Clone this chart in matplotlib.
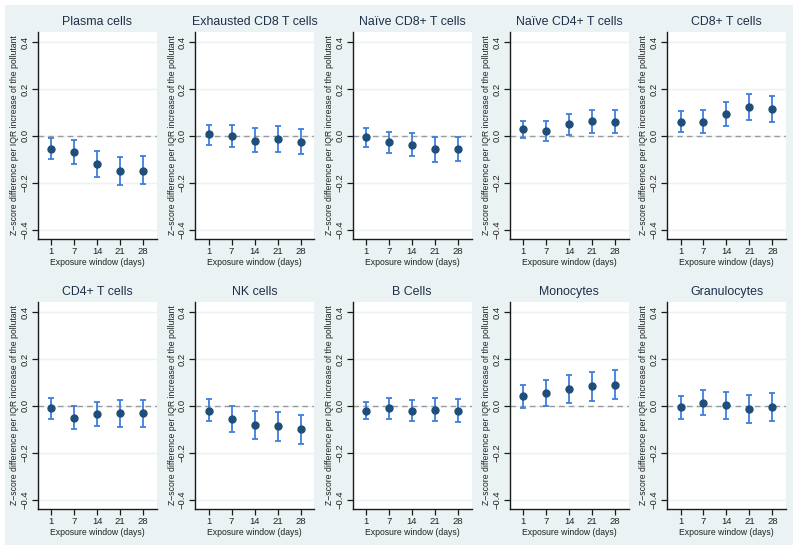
import matplotlib.pyplot as plt

# exposure windows (days), plotted at evenly spaced positions
windows = ['1', '7', '14', '21', '28']

titles = ['Plasma cells', 'Exhausted CD8 T cells', 'Naïve CD8+ T cells',
          'Naïve CD4+ T cells', 'CD8+ T cells', 'CD4+ T cells', 'NK cells',
          'B Cells', 'Monocytes', 'Granulocytes']

# point estimates per panel
est_plasma = [-0.054, -0.068, -0.119, -0.152, -0.148]
est_exh_cd8 = [0.006, 0.000, -0.020, -0.014, -0.026]
est_naive_cd8 = [-0.007, -0.028, -0.038, -0.057, -0.054]
est_naive_cd4 = [0.028, 0.020, 0.050, 0.062, 0.060]
est_cd8 = [0.060, 0.060, 0.095, 0.123, 0.116]
est_cd4 = [-0.010, -0.051, -0.034, -0.030, -0.031]
est_nk = [-0.020, -0.055, -0.082, -0.088, -0.100]
est_b = [-0.020, -0.011, -0.020, -0.017, -0.020]
est_mono = [0.041, 0.055, 0.072, 0.083, 0.090]
est_gran = [-0.006, 0.014, 0.004, -0.014, -0.006]

# lower / upper 95% CI per panel
lo_plasma = [-0.100, -0.120, -0.174, -0.211, -0.206]
hi_plasma = [-0.009, -0.016, -0.064, -0.092, -0.088]
lo_exh_cd8 = [-0.038, -0.047, -0.071, -0.070, -0.078]
hi_exh_cd8 = [0.045, 0.048, 0.033, 0.040, 0.031]
lo_naive_cd8 = [-0.047, -0.072, -0.087, -0.111, -0.106]
hi_naive_cd8 = [0.033, 0.018, 0.011, -0.003, -0.003]
lo_naive_cd4 = [-0.009, -0.023, 0.004, 0.014, 0.011]
hi_naive_cd4 = [0.065, 0.062, 0.095, 0.112, 0.109]
lo_cd8 = [0.017, 0.011, 0.044, 0.068, 0.061]
hi_cd8 = [0.104, 0.109, 0.146, 0.180, 0.170]
lo_cd4 = [-0.055, -0.099, -0.088, -0.092, -0.090]
hi_cd4 = [0.034, 0.000, 0.018, 0.027, 0.024]
lo_nk = [-0.066, -0.112, -0.140, -0.150, -0.163]
hi_nk = [0.028, 0.000, -0.024, -0.025, -0.040]
lo_b = [-0.058, -0.055, -0.066, -0.066, -0.069]
hi_b = [0.018, 0.033, 0.027, 0.033, 0.028]
lo_mono = [-0.008, 0.001, 0.014, 0.020, 0.028]
hi_mono = [0.089, 0.109, 0.130, 0.146, 0.151]
lo_gran = [-0.054, -0.040, -0.054, -0.075, -0.066]
hi_gran = [0.041, 0.066, 0.061, 0.048, 0.054]

estimates = [est_plasma, est_exh_cd8, est_naive_cd8, est_naive_cd4, est_cd8,
             est_cd4, est_nk, est_b, est_mono, est_gran]
lowers = [lo_plasma, lo_exh_cd8, lo_naive_cd8, lo_naive_cd4, lo_cd8,
          lo_cd4, lo_nk, lo_b, lo_mono, lo_gran]
uppers = [hi_plasma, hi_exh_cd8, hi_naive_cd8, hi_naive_cd4, hi_cd8,
          hi_cd4, hi_nk, hi_b, hi_mono, hi_gran]

bg = '#eaf2f3'
plt.rcParams['font.family'] = ['Liberation Sans', 'DejaVu Sans']

fig = plt.figure(figsize=(8, 5.51), dpi=100)
fig.patch.set_facecolor('white')
# light panel background behind all graphs
fig.patches.append(plt.Rectangle((5 / 800, 1 - 545 / 551), 788 / 800, 540 / 551,
                                 transform=fig.transFigure, facecolor=bg,
                                 edgecolor='none', zorder=-10))

W, H = 800, 551
pos = list(range(1, 6))
for i, title in enumerate(titles):
    row, col = divmod(i, 5)
    left = 38 + 157.3 * col
    top = 32 + 270 * row
    ax = fig.add_axes([left / W, 1 - (top + 207) / H, 119 / W, 207 / H])
    ax.set_facecolor('white')

    est = estimates[i]
    yerr = [[e - l for e, l in zip(est, lowers[i])],
            [u - e for e, u in zip(est, uppers[i])]]
    ax.axhline(0, color='#9a9a9a', lw=1, ls=(0, (4, 3)), zorder=1)
    ax.errorbar(pos, est, yerr=yerr, fmt='none', ecolor='#3d7ee0',
                elinewidth=1.3, capsize=2.2, capthick=1.3, zorder=2)
    ax.plot(pos, est, 'o', color='#1f4e79', ms=5, zorder=3)

    ax.set_xlim(0.42, 5.6)
    ax.set_ylim(-0.44, 0.443)
    ax.set_yticks([-0.4, -0.2, 0.0, 0.2, 0.4])
    ax.set_yticklabels(['−0.4', '−0.2', '0.0', '0.2', '0.4'], rotation=90,
                       va='center', fontsize=6.8)
    ax.set_xticks(pos)
    ax.set_xticklabels(windows, fontsize=6.8)
    ax.grid(axis='y', color=bg, lw=1)
    ax.set_axisbelow(True)
    for s in ['top', 'right']:
        ax.spines[s].set_visible(False)
    for s in ['left', 'bottom']:
        ax.spines[s].set_color('#1a1a1a')
        ax.spines[s].set_linewidth(1.0)
    ax.tick_params(length=4, width=0.9, color='#1a1a1a', pad=2,
                   labelcolor='#222222')
    ax.set_title(title, fontsize=8.9, color='#1e2f4a', pad=5)
    ax.set_xlabel('Exposure window (days)', fontsize=6.2, labelpad=1,
                  color='#222222')
    ax.set_ylabel('Z−score difference per IQR increase of the pollutant',
                  fontsize=6.2, labelpad=1, color='#222222')

fig.savefig('out.png', dpi=100)
